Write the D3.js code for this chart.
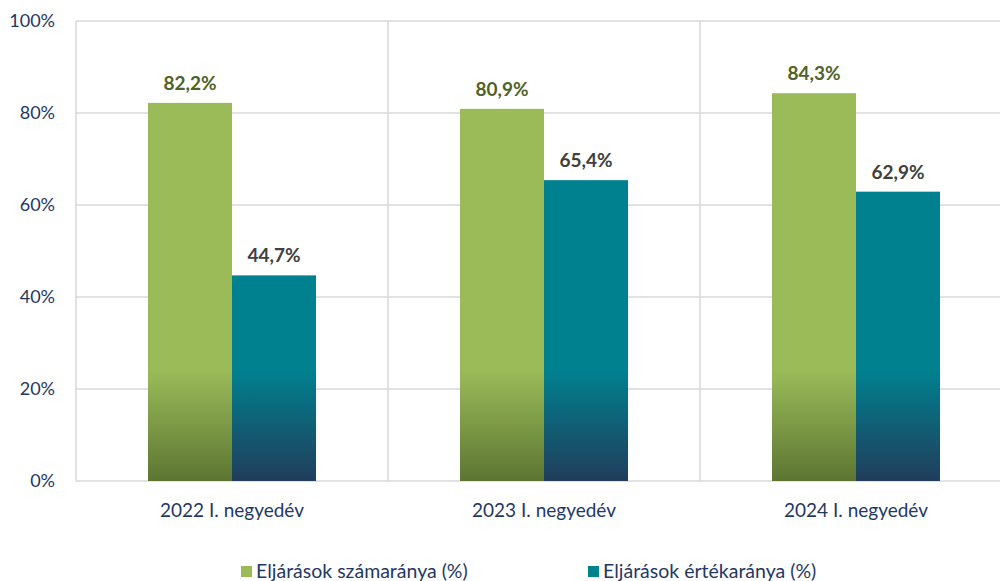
<!DOCTYPE html>
<html><head><meta charset="utf-8">
<script src="https://cdn.jsdelivr.net/npm/d3@7"></script>
<style>body{margin:0;background:#fff;}svg{display:block;font-family:Lato,"Open Sans",sans-serif;}</style>
</head><body>
<svg id="c" width="1000" height="581"></svg>
<script>
const categories = ["2022 I. negyedév", "2023 I. negyedév", "2024 I. negyedév"];
const seriesNames = ["Eljárások számaránya (%)", "Eljárások értékaránya (%)"];
const countShare = [82.2, 80.9, 84.3];
const valueShare = [44.7, 65.4, 62.9];
const yTicks = [0, 20, 40, 60, 80, 100];

(function () {
const svg = d3.select("#c");
const mLeft = 76, mTop = 21, mBottom = 481, bandW = 312;
const x = d3.scaleBand().domain(categories).range([mLeft, mLeft + bandW * 3]).paddingInner(0).paddingOuter(0);
const y = d3.scaleLinear().domain([0, 100]).range([mBottom, mTop]);

const defs = svg.append("defs");
function grad(id, c1, c2) {
  const g = defs.append("linearGradient").attr("id", id).attr("gradientUnits", "userSpaceOnUse")
    .attr("x1", 0).attr("x2", 0).attr("y1", y(100)).attr("y2", y(0));
  g.append("stop").attr("offset", "0").attr("stop-color", c1);
  g.append("stop").attr("offset", "0.76").attr("stop-color", c1);
  g.append("stop").attr("offset", "1").attr("stop-color", c2);
}
grad("gG", "#9BBB59", "#5C7632");
grad("gT", "#00818F", "#213D5B");

// gridlines
svg.append("g").selectAll("line").data(yTicks).join("line")
  .attr("x1", mLeft).attr("x2", 1000).attr("y1", d => y(d)).attr("y2", d => y(d))
  .attr("stroke", "#D9D9D9").attr("stroke-width", 1.5);
const vb = categories.map(c => x(c)).concat([x(categories[2]) + bandW]);
svg.append("g").selectAll("line").data(vb).join("line")
  .attr("x1", d => d).attr("x2", d => d).attr("y1", mTop).attr("y2", mBottom)
  .attr("stroke", "#D9D9D9").attr("stroke-width", 1.5);

// y tick labels
svg.append("g").selectAll("text").data(yTicks).join("text")
  .attr("x", 55).attr("y", d => y(d)).attr("dy", "0.35em").attr("text-anchor", "end")
  .attr("fill", "#1F3864").attr("font-size", 18).text(d => d + "%");

// bars
const barW = 84;
const inner = d3.scaleBand().domain([0, 1]).range([0, barW * 2]);
const fills = ["url(#gG)", "url(#gT)"];
const labelColors = ["#4F6228", "#404040"];
const fmt = v => v.toFixed(1).replace(".", ",") + "%";
[countShare, valueShare].forEach((arr, s) => {
  const g = svg.append("g");
  g.selectAll("rect").data(arr).join("rect")
    .attr("x", (d, i) => x(categories[i]) + (bandW - barW * 2) / 2 + inner(s))
    .attr("width", barW)
    .attr("y", d => y(d)).attr("height", d => y(0) - y(d))
    .attr("fill", fills[s]);
  g.selectAll("text").data(arr).join("text")
    .attr("x", (d, i) => x(categories[i]) + (bandW - barW * 2) / 2 + inner(s) + barW / 2)
    .attr("y", d => y(d) - 13)
    .attr("text-anchor", "middle").attr("font-weight", "bold").attr("font-size", 19)
    .attr("fill", labelColors[s]).text(d => fmt(d));
});

// x labels
svg.append("g").selectAll("text").data(categories).join("text")
  .attr("x", d => x(d) + bandW / 2).attr("y", 517).attr("text-anchor", "middle")
  .attr("fill", "#1F3864").attr("font-size", 19).text(d => d);

// legend
const legX = [241, 588];
const lg = svg.append("g");
seriesNames.forEach((n, i) => {
  lg.append("rect").attr("x", legX[i]).attr("y", 566).attr("width", 11).attr("height", 11)
    .attr("fill", i === 0 ? "#9BBB59" : "#00818F");
  lg.append("text").attr("x", legX[i] + 15).attr("y", 578).attr("fill", "#1F3864")
    .attr("font-size", 19.5).text(n);
});
})();
</script>
</body></html>
